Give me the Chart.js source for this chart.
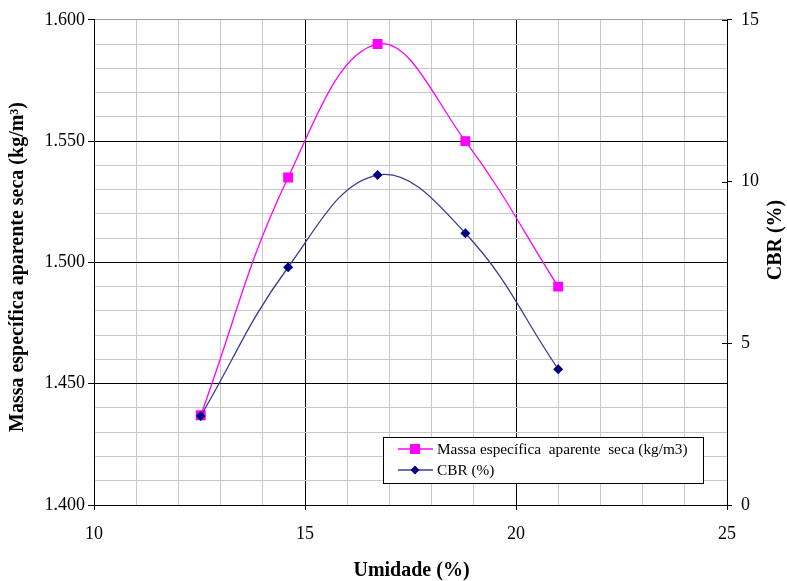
<!DOCTYPE html>
<html>
<head>
<meta charset="utf-8">
<script src="https://cdn.jsdelivr.net/npm/chart.js@4.4.1/dist/chart.umd.min.js"></script>
<style>
html,body{margin:0;padding:0;background:#fff;}
#wrap{width:787px;height:581px;position:relative;}
</style>
</head>
<body>
<div id="wrap"><canvas id="c" width="787" height="581"></canvas></div>
<script>
const umidade = [12.53, 14.6, 16.72, 18.8, 21.0];
const massaEspecifica = [1.437, 1.535, 1.590, 1.550, 1.490];
const cbr = [2.75, 7.35, 10.2, 8.4, 4.2];
const xTicks = [10, 15, 20, 25];
const yLeftTicks = [1.400, 1.450, 1.500, 1.550, 1.600];
const yRightTicks = [0, 5, 10, 15];
const labelMassa = 'Massa específica  aparente  seca (kg/m3)';
const labelCBR = 'CBR (%)';
const titleX = 'Umidade (%)';
const titleYLeft = 'Massa específica aparente seca (kg/m³)';
const titleYRight = 'CBR (%)';

const serif = '"Liberation Serif", "Times New Roman", serif';
const PINK = '#ff00ff';
const NAVY = '#000080';
const NAVYLINE = '#3c3c96';

const isMajorX = v => xTicks.includes(Math.round(v * 100) / 100);
const isMajorY = v => yLeftTicks.some(t => Math.abs(t - v) < 1e-6);

const titlesPlugin = {
  id: 'titles',
  afterDraw(chart) {
    const ctx = chart.ctx, a = chart.chartArea;
    ctx.save();
    ctx.fillStyle = '#000';
    ctx.font = 'bold 20px ' + serif;
    ctx.textAlign = 'center';
    ctx.textBaseline = 'middle';
    ctx.fillText(titleX, (a.left + a.right) / 2 + 1, 571);
    ctx.save();
    ctx.translate(18, 267);
    ctx.rotate(-Math.PI / 2);
    ctx.fillText(titleYLeft, 0, 0);
    ctx.restore();
    ctx.save();
    ctx.translate(776, 240);
    ctx.rotate(-Math.PI / 2);
    ctx.fillText(titleYRight, 0, 0);
    ctx.restore();
    ctx.restore();
  }
};

const crossTicksPlugin = {
  id: 'crossTicks',
  afterDatasetsDraw(chart) {
    const ctx = chart.ctx, a = chart.chartArea;
    const xs = chart.scales.x, yr = chart.scales.y1;
    ctx.save();
    ctx.strokeStyle = '#000';
    ctx.lineWidth = 1;
    ctx.beginPath();
    xTicks.forEach(v => {
      const px = Math.round(xs.getPixelForValue(v)) + 0.5;
      ctx.moveTo(px, a.bottom - 4);
      ctx.lineTo(px, a.bottom);
    });
    yRightTicks.forEach(v => {
      const py = Math.round(yr.getPixelForValue(v)) + 0.5;
      ctx.moveTo(a.right - 5, py);
      ctx.lineTo(a.right, py);
    });
    ctx.stroke();
    ctx.restore();
  }
};

const legendPlugin = {
  id: 'boxLegend',
  afterDraw(chart) {
    const ctx = chart.ctx;
    const L = 383.5, T = 437.5, R = 703.5, B = 483.5;
    ctx.save();
    ctx.fillStyle = '#fff';
    ctx.fillRect(L, T, R - L, B - T);
    ctx.strokeStyle = '#000';
    ctx.lineWidth = 1;
    ctx.strokeRect(L, T, R - L, B - T);
    const rows = [
      {ds: chart.data.datasets[0], y: 449},
      {ds: chart.data.datasets[1], y: 470}
    ];
    rows.forEach(r => {
      ctx.strokeStyle = r.ds.borderColor;
      ctx.lineWidth = 1.3;
      ctx.beginPath();
      ctx.moveTo(398, r.y);
      ctx.lineTo(433, r.y);
      ctx.stroke();
      ctx.fillStyle = r.ds.pointBackgroundColor;
      if (r.ds.pointStyle === 'rect') {
        ctx.fillRect(415 - 5, r.y - 5, 10, 10);
      } else {
        ctx.beginPath();
        ctx.moveTo(415, r.y - 4.5);
        ctx.lineTo(419.5, r.y);
        ctx.lineTo(415, r.y + 4.5);
        ctx.lineTo(410.5, r.y);
        ctx.closePath();
        ctx.fill();
      }
      ctx.fillStyle = '#000';
      ctx.font = '15.3px ' + serif;
      ctx.textAlign = 'left';
      ctx.textBaseline = 'middle';
      ctx.fillText(r.ds.label, 437, r.y + 1);
    });
    ctx.restore();
  }
};

new Chart(document.getElementById('c'), {
  type: 'line',
  data: {
    datasets: [
      {
        label: labelMassa,
        data: umidade.map((x, i) => ({x, y: massaEspecifica[i]})),
        yAxisID: 'y',
        borderColor: PINK,
        backgroundColor: PINK,
        pointBackgroundColor: PINK,
        pointBorderColor: PINK,
        pointStyle: 'rect',
        pointRadius: 7,
        pointBorderWidth: 0,
        borderWidth: 1.3,
        tension: 0.4,
        fill: false,
        order: 1
      },
      {
        label: labelCBR,
        data: umidade.map((x, i) => ({x, y: cbr[i]})),
        yAxisID: 'y1',
        borderColor: NAVYLINE,
        backgroundColor: NAVY,
        pointBackgroundColor: NAVY,
        pointBorderColor: NAVY,
        pointStyle: 'rectRot',
        pointRadius: 5,
        pointBorderWidth: 0,
        borderWidth: 1.3,
        tension: 0.4,
        fill: false,
        order: 0
      }
    ]
  },
  options: {
    responsive: false,
    animation: false,
    devicePixelRatio: 1,
    layout: {padding: {top: 18.2, left: 0, right: 0, bottom: 0}},
    plugins: {legend: {display: false}, tooltip: {enabled: false}, title: {display: false}},
    elements: {line: {capBezierPoints: false}},
    scales: {
      x: {
        type: 'linear',
        min: 10, max: 25,
        afterFit(s) { s.height = 76; },
        ticks: {
          stepSize: 1,
          autoSkip: false,
          maxRotation: 0,
          padding: 13,
          color: '#000',
          font: {family: serif, size: 18},
          callback: v => (isMajorX(v) ? String(v) : '')
        },
        grid: {
          color: c => {
            const v = c.tick ? c.tick.value : 0;
            if (v === 10 || v === 25) return 'rgba(0,0,0,0)';
            return isMajorX(v) ? '#000' : '#c8c8c8';
          },
          lineWidth: 1,
          drawTicks: true,
          tickLength: 5,
          tickColor: c => (c.tick && isMajorX(c.tick.value) ? '#000' : 'rgba(0,0,0,0)')
        },
        border: {display: true, color: '#000', width: 1}
      },
      y: {
        type: 'linear',
        position: 'left',
        min: 1.4, max: 1.6,
        afterFit(s) { s.width = 94; },
        ticks: {
          stepSize: 0.01,
          autoSkip: false,
          padding: 3,
          color: '#000',
          font: {family: serif, size: 18},
          callback: v => (isMajorY(v) ? Number(v).toFixed(3) : '')
        },
        grid: {
          color: c => {
            const v = c.tick ? c.tick.value : 0;
            if (Math.abs(v - 1.4) < 1e-6) return 'rgba(0,0,0,0)';
            if (Math.abs(v - 1.6) < 1e-6) return '#a0a0a0';
            return isMajorY(v) ? '#000' : '#c8c8c8';
          },
          lineWidth: 1,
          drawTicks: true,
          tickLength: 6,
          tickColor: c => (c.tick && isMajorY(c.tick.value) ? '#000' : 'rgba(0,0,0,0)')
        },
        border: {display: true, color: '#000', width: 1}
      },
      y1: {
        type: 'linear',
        position: 'right',
        min: 0, max: 15,
        afterFit(s) { s.width = 60; },
        ticks: {
          stepSize: 5,
          autoSkip: false,
          padding: 9,
          color: '#000',
          font: {family: serif, size: 18},
          callback: v => String(v)
        },
        grid: {
          drawOnChartArea: false,
          drawTicks: true,
          tickLength: 5,
          color: '#000'
        },
        border: {display: true, color: '#000', width: 1}
      }
    }
  },
  plugins: [titlesPlugin, crossTicksPlugin, legendPlugin]
});
</script>
</body>
</html>
